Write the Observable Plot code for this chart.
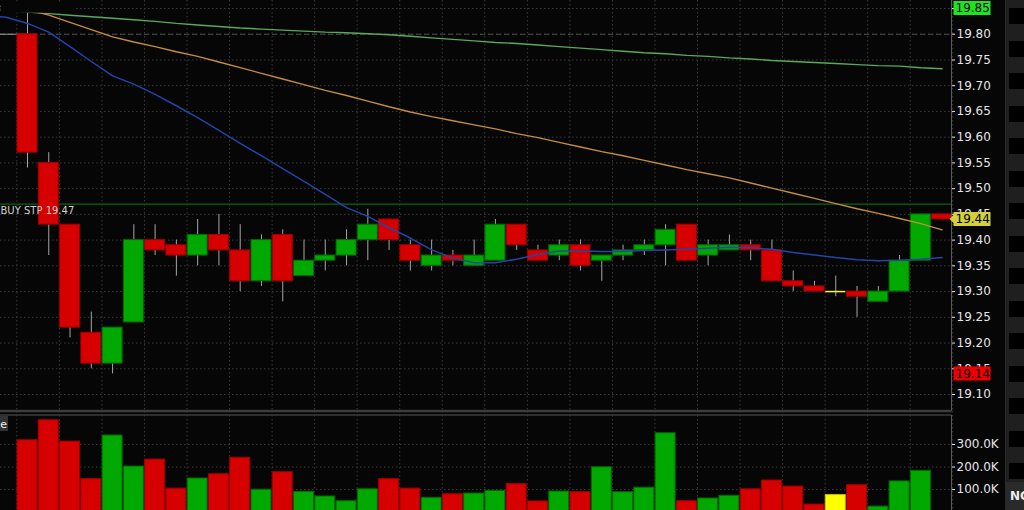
<!DOCTYPE html>
<html><head><meta charset="utf-8">
<script src="https://cdn.jsdelivr.net/npm/d3@7"></script>
<script src="https://cdn.jsdelivr.net/npm/@observablehq/plot@0.6"></script>
<style>
html,body{margin:0;padding:0;background:#060606;overflow:hidden;}
#wrap{position:relative;width:1024px;height:510px;background:#060606;font-family:"DejaVu Sans",sans-serif;overflow:hidden;}
#wrap > svg{position:absolute;left:0;}
#side{position:absolute;left:1005px;top:0;width:19px;height:510px;background:#1f1f1f;border-left:1px solid #2c2c2c;box-sizing:border-box;}
.box{position:absolute;left:3px;width:16px;height:16px;background:#000;}
#nc{position:absolute;left:1005px;top:482px;width:19px;height:28px;background:#2a2a2a;color:#eee;font:bold 12px "DejaVu Sans",sans-serif;line-height:28px;padding-left:5px;box-sizing:border-box;white-space:nowrap;overflow:hidden;}
</style></head>
<body><div id="wrap"><div id="side"></div><div id="nc">NC</div></div>
<script>
// ---- data ----
const opens  = [19.80,19.55,19.43,19.22,19.16,19.24,19.40,19.39,19.37,19.41,19.38,19.32,19.41,19.33,19.36,19.37,19.40,19.44,19.39,19.35,19.37,19.35,19.36,19.43,19.38,19.37,19.39,19.36,19.37,19.38,19.39,19.43,19.37,19.38,19.39,19.38,19.32,19.31,19.30,19.30,19.28,19.30,19.36,19.45];
const highs  = [19.85,19.57,19.43,19.26,19.23,19.43,19.43,19.40,19.44,19.45,19.43,19.41,19.42,19.40,19.40,19.42,19.46,19.44,19.40,19.40,19.38,19.40,19.44,19.43,19.39,19.40,19.40,19.37,19.39,19.40,19.43,19.43,19.40,19.41,19.40,19.40,19.34,19.32,19.33,19.31,19.31,19.37,19.45,19.45];
const lows   = [19.54,19.37,19.21,19.15,19.14,19.24,19.37,19.33,19.35,19.35,19.30,19.31,19.28,19.33,19.34,19.35,19.36,19.38,19.34,19.34,19.35,19.35,19.36,19.38,19.36,19.36,19.34,19.32,19.36,19.37,19.35,19.36,19.35,19.38,19.36,19.32,19.30,19.30,19.29,19.25,19.28,19.30,19.36,19.44];
const closes = [19.57,19.43,19.23,19.16,19.23,19.40,19.38,19.37,19.41,19.38,19.32,19.40,19.32,19.36,19.37,19.40,19.43,19.40,19.36,19.37,19.36,19.37,19.43,19.39,19.36,19.39,19.35,19.37,19.38,19.39,19.42,19.36,19.39,19.39,19.38,19.32,19.31,19.30,19.30,19.29,19.30,19.36,19.45,19.44];
const volumesK = [319,408,313,146,340,202,233,104,149,168,241,99,177,90,69,48,101,146,104,63,79,82,94,124,47,91,88,199,88,108,350,48,60,72,101,140,113,33,75,119,24,136,183,null];

// moving averages, bar index -2 .. 43
const maStart = -2;
const maFast = [19.837,19.833,19.821,19.804,19.776,19.747,19.719,19.703,19.683,19.661,19.638,19.613,19.588,19.564,19.539,19.514,19.489,19.463,19.446,19.424,19.404,19.381,19.365,19.356,19.356,19.363,19.372,19.379,19.379,19.378,19.378,19.380,19.381,19.382,19.384,19.386,19.385,19.382,19.376,19.371,19.366,19.362,19.360,19.361,19.363,19.366];
const maMid  = [19.858,19.853,19.848,19.837,19.823,19.809,19.795,19.785,19.776,19.766,19.757,19.746,19.735,19.724,19.713,19.702,19.691,19.681,19.670,19.659,19.649,19.640,19.632,19.624,19.616,19.607,19.599,19.590,19.581,19.572,19.564,19.555,19.546,19.537,19.529,19.521,19.511,19.501,19.491,19.481,19.471,19.461,19.452,19.442,19.432,19.420];
const maSlow = [19.849,19.846,19.843,19.840,19.837,19.834,19.831,19.828,19.825,19.821,19.818,19.815,19.812,19.810,19.808,19.806,19.804,19.803,19.801,19.799,19.796,19.793,19.790,19.787,19.784,19.782,19.779,19.776,19.773,19.770,19.767,19.764,19.762,19.759,19.757,19.754,19.752,19.749,19.747,19.745,19.743,19.741,19.739,19.738,19.735,19.733];

const priceTicks = [19.10,19.15,19.20,19.25,19.30,19.35,19.40,19.45,19.50,19.55,19.60,19.65,19.70,19.75,19.80,19.85];
const volumeTicks = [100000,200000,300000];
const refLevel = 19.80;
const stopLevel = 19.47;
const stopLabel = "BUY STP 19.47";
const markerValues = [19.85, 19.44, 19.14];
const markerColors = ["#1fe51f", "#d4d03c", "#ee0000"];
const volumeTitle = "Volume";

// ---- build tables ----
const UP = "#00a800", DOWN = "#d60000", FLAT = "#ffff00";
const UP_S = "#006a00", DOWN_S = "#9e0000";
const candles = opens.map((o, i) => {
  const c = closes[i];
  const dir = c > o ? 1 : c < o ? -1 : 0;
  return {i, open:o, high:highs[i], low:lows[i], close:c,
    vol: volumesK[i] == null ? null : volumesK[i]*1000,
    fill: dir > 0 ? UP : dir < 0 ? DOWN : FLAT,
    stroke: dir > 0 ? UP_S : dir < 0 ? DOWN_S : FLAT, dir};
});
const maRows = maFast.map((v, k) => ({i: maStart + k, fast: v, mid: maMid[k], slow: maSlow[k]}));
const gridCols = d3.range(-0.5, opens.length, 2);
const hw = 0.47;
const N = opens.length;

const W = 1005, MR = 54;
const xOpt = {type:"linear", domain:[0, N-1], range:[27, 27 + 21.27*(N-1)], axis:null};
const baseStyle = {background:"#060606", color:"#e4e4e4", fontFamily:"DejaVu Sans, sans-serif", fontSize:"12px", overflow:"hidden"};
const gridStyle = {stroke:"#3a3a3a", strokeOpacity:1, strokeDasharray:"1.5,2.5"};

const price = Plot.plot({
  width: W, height: 411, marginLeft:0, marginRight:MR, marginTop:0, marginBottom:0,
  x: xOpt,
  y: {domain:[19.10, 19.85], range:[394, 8], axis:null, label:null},
  color: {type:"identity"},
  style: baseStyle,
  marks: [
    Plot.gridY({ticks: priceTicks, ...gridStyle}),
    Plot.gridX({ticks: gridCols, ...gridStyle}),
    Plot.ruleY([refLevel], {stroke:"#4c4c4c", strokeDasharray:"5,3"}),
    Plot.ruleY([refLevel], {x1: maStart, x2: 0, stroke:"#9a9a9a", clip:"frame"}),
    Plot.ruleY([stopLevel], {stroke:"#0e6212", strokeWidth:1.2}),
    Plot.ruleX(candles, {x:"i", y1:"low", y2:"high", stroke:"#a6a6a6"}),
    Plot.rect(candles.filter(d => d.dir !== 0), {x1: d => d.i - hw, x2: d => d.i + hw, y1:"open", y2:"close", fill:"fill", stroke:"stroke"}),
    Plot.ruleY(candles.filter(d => d.dir === 0), {y:"close", x1: d => d.i - hw, x2: d => d.i + hw, stroke:"fill", strokeWidth:1.5}),
    Plot.line(maRows, {x:"i", y:"slow", stroke:"#5aa85c", strokeWidth:1.4, clip:"frame"}),
    Plot.line(maRows, {x:"i", y:"mid", stroke:"#c28d3e", strokeWidth:1.4, clip:"frame"}),
    Plot.line(maRows, {x:"i", y:"fast", stroke:"#2444a8", strokeWidth:1.5, clip:"frame"}),
    Plot.text([stopLabel], {frameAnchor:"left", y: stopLevel, dy: 7, textAnchor:"start", fill:"#d0d0d0", fontSize:10, className:"stoplabel"}),
    Plot.axisY({ticks: priceTicks, anchor:"right", tickFormat: d => d.toFixed(2), tickSize:3, tickPadding:2, fontSize:12, label:null})
  ]
});
price.style.top = "0px";

const volume = Plot.plot({
  width: W, height: 99, marginLeft:0, marginRight:MR, marginTop:0, marginBottom:0,
  x: xOpt,
  y: {domain:[0, 300000], range:[100.5, 33], axis:null, label:null},
  color: {type:"identity"},
  style: baseStyle,
  marks: [
    Plot.gridY({ticks: volumeTicks, ...gridStyle}),
    Plot.gridX({ticks: gridCols, ...gridStyle}),
    Plot.rect(candles.filter(d => d.vol != null), {x1: d => d.i - hw, x2: d => d.i + hw, y1: 0, y2:"vol", fill:"fill", stroke: d => d.dir === 0 ? "#c8c800" : d.stroke, clip:"frame"}),
    Plot.axisY({ticks: volumeTicks, anchor:"right", tickFormat: d => (d/1000).toFixed(1) + "K", tickSize:3, tickPadding:2, fontSize:12, label:null})
  ]
});
volume.style.top = "411px";

const wrap = document.getElementById("wrap");
wrap.insertBefore(volume, wrap.firstChild);
wrap.insertBefore(price, wrap.firstChild);

// dark backing behind the stop label
const ps = d3.select(price);
const stopText = price.querySelector(".stoplabel text") || price.querySelector("g.stoplabel text");
if (stopText) {
  const bb = stopText.getBBox();
  const g = stopText.parentNode;
  d3.select(g).insert("rect", "text").attr("x", bb.x).attr("y", bb.y + 1).attr("width", bb.width + 1).attr("height", bb.height - 1).attr("fill", "#060606");
}

// axis border lines & panel separators
const axX = W - MR + 0.5;
ps.append("line").attr("x1", axX).attr("x2", axX).attr("y1", 0).attr("y2", 411).attr("stroke", "#5a5a5a");
ps.append("line").attr("x1", 0).attr("x2", axX).attr("y1", 410.5).attr("y2", 410.5).attr("stroke", "#3c3c3c").attr("stroke-width", 1.5);
const vs = d3.select(volume);
vs.append("line").attr("x1", 0).attr("x2", axX).attr("y1", 0.5).attr("y2", 0.5).attr("stroke", "#3c3c3c").attr("stroke-width", 1.5);
vs.append("line").attr("x1", 0).attr("x2", axX).attr("y1", 4).attr("y2", 4).attr("stroke", "#3c3c3c").attr("stroke-width", 1.5);
vs.append("line").attr("x1", axX).attr("x2", axX).attr("y1", 4).attr("y2", 99).attr("stroke", "#5a5a5a");
vs.append("rect").attr("x", 0).attr("y", 5).attr("width", 8).attr("height", 15).attr("fill", "#333");
vs.append("text").attr("x", 7).attr("y", 16.5).attr("text-anchor", "end").attr("fill", "#eee").attr("font-size", 11).text(volumeTitle);

// highlighted price markers on the axis
const yScale = price.scale("y");
markerValues.forEach((v, k) => {
  const cy = yScale.apply(v);
  const g = ps.append("g").attr("text-anchor", "start");
  if (k === 1) g.append("path").attr("d", `M${axX-2},${cy} L${axX+3},${cy-5} L${axX+3},${cy+5} Z`).attr("fill", markerColors[k]);
  g.append("rect").attr("x", axX + 2).attr("y", cy - 7).attr("width", 37).attr("height", 14).attr("fill", markerColors[k]);
  g.append("text").attr("x", axX + 4).attr("y", cy).attr("dy", "0.36em").attr("text-anchor", "start").attr("fill", "#000").attr("font-size", 12).text(v.toFixed(2));
});

// right-side toolbar boxes
const side = document.getElementById("side");
for (let k = 0; k < 15; k++) {
  const b = document.createElement("div");
  b.className = "box";
  b.style.top = (8 + 32.5*k) + "px";
  side.appendChild(b);
}
</script>
</body></html>
